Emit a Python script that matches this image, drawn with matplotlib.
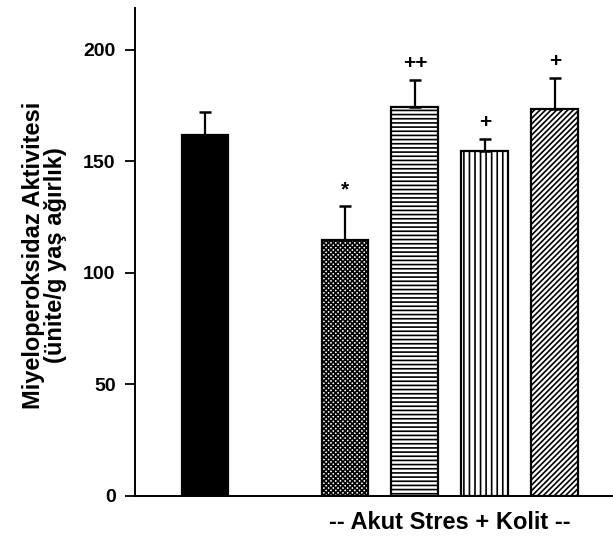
import matplotlib
matplotlib.use("Agg")
import matplotlib.pyplot as plt

plt.rcParams['font.family'] = ['Liberation Sans', 'DejaVu Sans']
plt.rcParams['hatch.linewidth'] = 1.2

# Group positions: control bar, then four stress + colitis groups
positions = [0, 2, 3, 4, 5]
means = [162, 115, 174.5, 154.5, 173.5]
sem = [10, 15, 12, 5.5, 14]
marks = ['', '*', '++', '+', '+']
hatches = ['', 'xxxxxxx', '----', '|||', '//////']
fills = ['black', 'white', 'white', 'white', 'white']

fig = plt.figure(figsize=(6.13, 5.38), dpi=100)
ax = fig.add_axes([0.2202, 0.0781, 0.7798, 0.9078])

bars = ax.bar(positions, means, width=0.67, color=fills, edgecolor='black',
              linewidth=1.6, zorder=2)
for b, h in zip(bars, hatches):
    b.set_hatch(h)

ax.errorbar(positions, means, yerr=[[0] * len(sem), sem], fmt='none',
            ecolor='black', elinewidth=1.6, capsize=4, capthick=1.8, zorder=3)

for x, m, s, t in zip(positions, means, sem, marks):
    if t:
        ax.annotate(t, xy=(x, m + s), xytext=(0, 12), textcoords='offset points',
                    ha='center', va='center', fontsize=15, fontweight='bold')

ax.set_xlim(-1.0, 5.83)
ax.set_ylim(0, 219)
ax.set_yticks([0, 50, 100, 150, 200])
ax.set_xticks([])
ax.tick_params(axis='y', direction='out', length=7, width=1.3, pad=7,
               labelsize=14)
for lab in ax.get_yticklabels():
    lab.set_fontweight('bold')
for s in ['top', 'right']:
    ax.spines[s].set_visible(False)
ax.spines['left'].set_linewidth(1.4)
ax.spines['bottom'].set_linewidth(1.4)

fig.text(0.072, 0.526, 'Miyeloperoksidaz Aktivitesi\n(ünite/g yaş ağırlık)',
         rotation=90, ha='center', va='center', multialignment='center',
         fontsize=17, fontweight='bold', linespacing=0.95)

fig.text(0.733, 0.028, '-- Akut Stres + Kolit --', ha='center', va='center',
         fontsize=17, fontweight='bold')

fig.savefig('out.png', dpi=100)
